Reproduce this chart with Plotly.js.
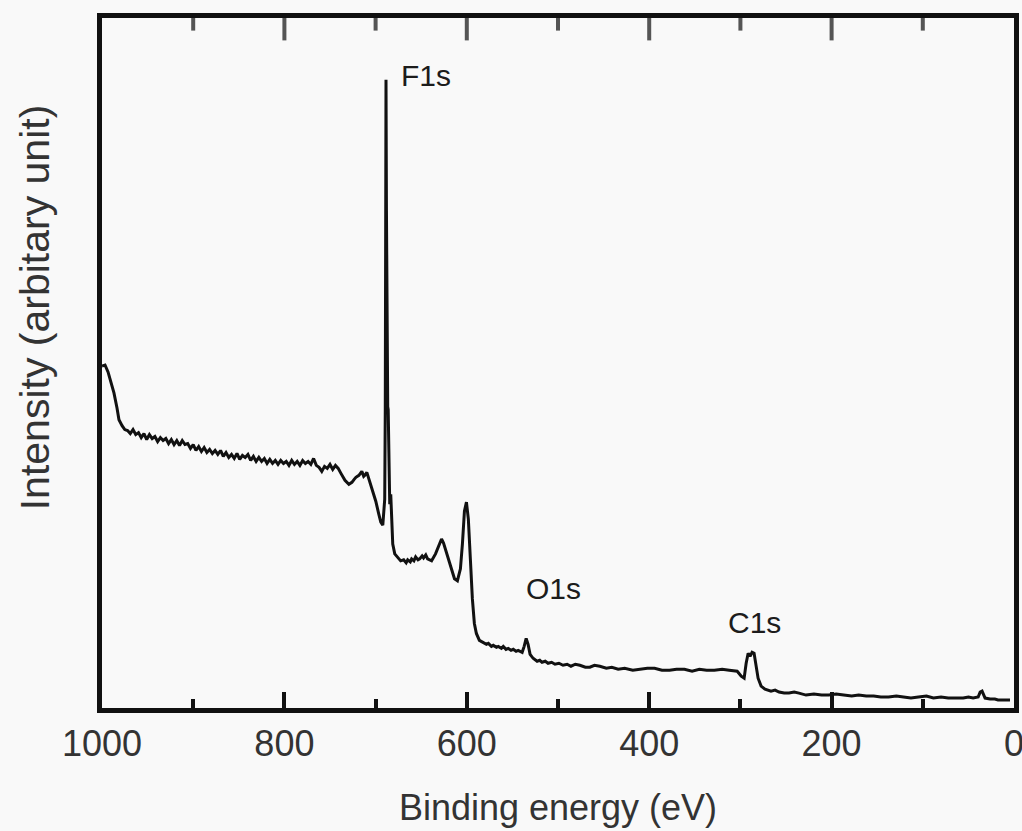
<!DOCTYPE html>
<html>
<head>
<meta charset="utf-8">
<script src="https://cdn.plot.ly/plotly-3.0.1.min.js"></script>
<style>html,body{margin:0;padding:0;background:#f9f9f9;}#chart{width:1022px;height:831px;}</style>
</head>
<body>
<div id="chart"></div>
<script>
// Binding energy (eV) and intensity (arbitrary unit)
const bindingEnergy = [
 1000, 996.7, 993.4, 990.2, 986.9, 983.6, 981.4, 978,
 975, 972, 969, 966, 963, 960, 957, 954, 951, 948, 945, 942, 939, 936, 933, 930, 927, 924, 921, 918, 915,
 912, 909, 906, 903, 900, 897, 894, 891, 888, 885, 882, 879, 876, 873, 870, 867, 864, 861, 858, 855, 852,
 849, 846, 843, 840, 837, 834, 831, 828, 825, 822, 819, 816, 813, 810, 807, 804, 801, 798, 795, 792, 789,
 786, 783, 780, 777, 774, 771, 768, 765, 762, 759, 756, 753, 750, 747, 744, 741, 738,
 733.6, 729.3, 726.0, 723.5, 721.6, 718.3, 715.1, 713.0, 711.8, 709.6, 706.3, 703.1, 699.8, 696.5, 694.3,
 692.1, 690.0, 689.4, 689.0, 688.6, 688.1, 687.6, 686.7, 686.2, 684.5, 683.4, 682.3, 681.2, 679.0, 675.8,
 672.5, 669.2, 666.5, 664.8, 662.0, 660.5, 658.0, 656.1, 653.5, 651.7, 649.0, 647.4, 645.0, 643.0, 640.5,
 638.6, 634.3, 631.0, 627.7, 625.5, 622.3, 617.9, 613.5, 610.3, 607.0, 604.8, 602.6, 600.4, 598.3, 596.1,
 593.9, 591.7, 589.5, 586.2, 581.9, 578.5, 576.4, 573.0, 571.0, 567.5, 565.5, 562.0, 560.0, 557.0, 554.6,
 551.5, 549.1, 546.0, 543.7, 539.3, 537.1, 534.9, 532.8, 530.6, 527.3, 522.9, 520.0, 517.5, 514.0, 510.9,
 507.0, 503.3, 499.0, 494.5, 490.0, 485.8, 481.0, 476.0, 470.0, 465.1, 460.0, 454.1, 447.0, 441.0, 434.0,
 426.9, 418.0, 410.5, 402.0, 394.1, 386.0, 377.7, 370.0, 361.4, 353.0, 345.0, 337.0, 328.6, 320.0, 312.2,
 303.5, 299.1, 295.9, 293.7, 291.5, 289.4, 287.2, 285.0, 282.8, 280.6, 277.3, 273.0, 266.4, 262.0, 257.6,
 252.0, 246.7, 241.0, 235.8, 228.0, 219.4, 211.0, 203.1, 195.0, 186.7, 178.0, 170.3, 162.0, 153.9, 146.0,
 137.6, 129.0, 121.2, 113.0, 104.8, 96.0, 88.4, 80.0, 72.1, 64.0, 55.7, 50.0, 44.8, 39.3, 37.1,
 35.0, 31.7, 26.2, 21.0, 17.5, 13.0, 8.7, 4.4
];
const intensity = [
 34.4, 34.5, 33.8, 32.8, 31.7, 30.2, 29.0, 28.4,
 28.0, 27.9, 27.6, 28.0, 27.5, 27.7, 27.2, 27.6, 27.0, 27.5, 27.1, 27.3, 26.8, 27.2, 26.9, 27.1, 26.6, 27.0, 26.5, 26.9, 26.4,
 26.9, 26.5, 26.6, 26.1, 26.5, 25.9, 26.3, 25.8, 26.2, 25.7, 26.0, 25.6, 25.9, 25.5, 25.9, 25.3, 25.7, 25.2, 25.5, 25.1, 25.6,
 25.0, 25.4, 25.2, 25.5, 24.9, 25.3, 24.8, 25.2, 24.8, 25.1, 24.6, 25.0, 24.6, 24.9, 24.5, 24.9, 24.6, 24.8, 24.4, 24.9, 24.5,
 24.8, 24.4, 24.9, 24.6, 24.8, 24.5, 25.1, 24.4, 24.2, 23.8, 24.3, 24.1, 24.5, 24.0, 24.4, 24.1, 23.6,
 22.9, 22.5, 22.7, 23.0, 23.2, 23.4, 23.8, 23.3, 23.4, 23.7, 22.8, 21.8, 20.8, 19.5, 18.7,
 18.4, 21.0, 30.0, 45.0, 63.2, 50.0, 34.0, 30.3, 30.0, 20.5, 21.5, 18.0, 16.5, 15.5, 15.2,
 14.8, 14.9, 14.6, 14.9, 14.7, 15.0, 14.8, 15.2, 14.9, 15.0, 15.3, 15.1, 15.4, 15.0, 14.9,
 14.8, 15.5, 16.2, 17.0, 16.6, 15.6, 14.3, 13.0, 12.8, 14.0, 16.5, 19.8, 20.7, 19.0, 15.0,
 11.0, 8.5, 7.5, 6.8, 6.6, 6.4, 6.5, 6.2, 6.3, 6.1, 6.2, 6.0, 6.2, 5.9, 6.0,
 5.8, 5.9, 5.7, 5.8, 5.6, 6.2, 7.0, 6.4, 5.4, 5.0, 4.7, 4.8, 4.6, 4.7, 4.5,
 4.6, 4.4, 4.5, 4.3, 4.4, 4.2, 4.4, 4.3, 4.1, 4.1, 4.3, 4.2, 4.0, 4.1, 3.9,
 4.0, 3.8, 3.9, 4.0, 4.0, 3.8, 3.8, 3.9, 3.9, 3.7, 3.9, 3.8, 3.8, 3.9, 3.8,
 3.7, 3.2, 3.0, 4.5, 5.5, 5.2, 5.6, 5.5, 4.0, 3.0, 2.2, 1.9, 1.7, 1.8, 1.6,
 1.5, 1.5, 1.6, 1.5, 1.3, 1.4, 1.3, 1.3, 1.4, 1.3, 1.2, 1.3, 1.2, 1.2, 1.1,
 1.1, 1.2, 1.1, 1.0, 1.1, 1.2, 1.0, 1.1, 1.0, 1.0, 1.0, 1.1, 1.0, 1.1, 1.6,
 1.7, 1.0, 0.9, 0.9, 0.8, 0.8, 0.8, 0.8
];
const tickValues = [1000, 800, 600, 400, 200, 0];
const tickLabels = ["1000", "800", "600", "400", "200", "0"];
const minorTickValues = [900, 700, 500, 300, 100];
const peakNames = ["F1s", "O1s", "C1s"];
const peakLabelX = [645, 505, 285];
const peakLabelY = [63.6, 12.0, 8.6];

const font = "Liberation Sans, Arial, Helvetica, sans-serif";
const ink = "#1c1c1c";
const yRange = [0, 69.4];
const majorLen = 16, minorLen = 9;

const annotations = peakNames.map((t, i) => ({
  x: peakLabelX[i], y: peakLabelY[i], xref: "x", yref: "y", text: t,
  showarrow: false, font: {family: font, size: 30, color: ink}
}));
annotations.push({
  xref: "paper", yref: "paper", x: -0.074, y: 0.58, xanchor: "center", yanchor: "middle",
  text: "Intensity (arbitary unit)",
  textangle: -90, showarrow: false, font: {family: font, size: 41, color: "#333"}
});

// Top-edge tick marks: vertical line markers centred on the top of the y range;
// the half outside the plot area is clipped, leaving inward ticks.
const innerMajor = tickValues.filter(v => v !== tickValues[0] && v !== tickValues[tickValues.length - 1]);
const topTickX = innerMajor.concat(minorTickValues);
const topTickY = topTickX.map(() => yRange[1]);
const topTickSize = innerMajor.map(() => 2 * majorLen).concat(minorTickValues.map(() => 2 * minorLen));

Plotly.newPlot("chart", [{
  x: bindingEnergy, y: intensity, type: "scatter", mode: "lines",
  line: {color: "#111", width: 3}, hoverinfo: "skip"
}, {
  x: topTickX, y: topTickY, type: "scatter", mode: "markers", cliponaxis: true,
  marker: {symbol: "line-ns", size: topTickSize, color: "#111", line: {color: "#111", width: 4}},
  hoverinfo: "skip", showlegend: false
}], {
  width: 1022, height: 831,
  margin: {l: 102, r: 8, t: 18, b: 123},
  paper_bgcolor: "#f9f9f9", plot_bgcolor: "#f9f9f9",
  showlegend: false,
  xaxis: {
    range: [1000, 0], autorange: false,
    tickmode: "array", tickvals: tickValues, ticktext: tickLabels,
    ticks: "inside", ticklen: majorLen, tickwidth: 4, tickcolor: "#111",
    minor: {tickmode: "array", tickvals: minorTickValues, ticks: "inside", ticklen: minorLen, tickwidth: 4, tickcolor: "#111"},
    showline: true, linewidth: 5, linecolor: "#111", mirror: true,
    showgrid: false, zeroline: false,
    tickfont: {family: font, size: 36, color: "#333"},
    ticklabeloverflow: "allow",
    title: {text: "Binding energy (eV)", font: {family: font, size: 36, color: "#333"}, standoff: 33}
  },
  yaxis: {
    range: yRange, autorange: false,
    showline: true, linewidth: 5, linecolor: "#111", mirror: true,
    ticks: "", showticklabels: false, showgrid: false, zeroline: false
  },
  annotations: annotations
}, {displayModeBar: false, staticPlot: true});
</script>
</body>
</html>
